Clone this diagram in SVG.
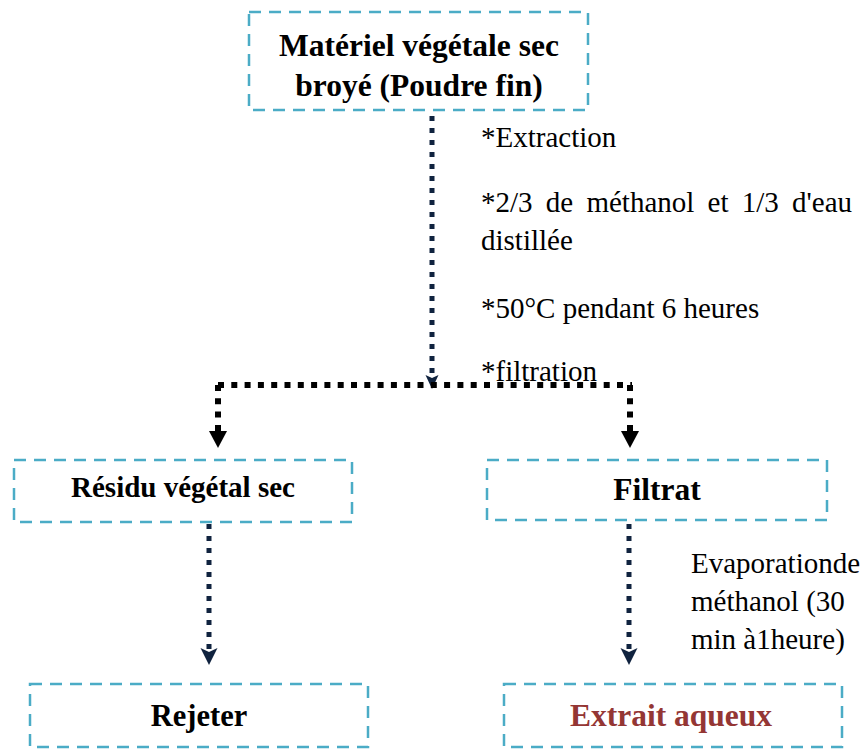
<svg xmlns="http://www.w3.org/2000/svg" width="865" height="749" viewBox="0 0 865 749">
<style>
.box{fill:#fff;stroke:#4bacc6;stroke-width:2.5;stroke-dasharray:12 8}
.b{font-family:"Liberation Serif","Times New Roman",serif;font-weight:bold;fill:#000;text-anchor:middle}
.r{font-family:"Liberation Serif","Times New Roman",serif;font-size:29px;fill:#000}
.navy{fill:none;stroke:#10233f;stroke-width:5;stroke-dasharray:5 7}
.blk{fill:none;stroke:#000;stroke-width:6;stroke-dasharray:6 7.3}
</style>
<defs>
<marker id="navyA" markerUnits="userSpaceOnUse" viewBox="0 -9 18 18" markerWidth="18" markerHeight="18" refX="4" refY="0" orient="auto" overflow="visible">
<path d="M0,-8.5 L17,0 L0,8.5 L4,0 Z" fill="#10233f"/>
</marker>
<marker id="navyS" markerUnits="userSpaceOnUse" viewBox="0 -7 15 14" markerWidth="15" markerHeight="14" refX="3" refY="0" orient="auto" overflow="visible">
<path d="M0,-6.5 L14,0 L0,6.5 L3,0 Z" fill="#10233f"/>
</marker>
<marker id="blkA" markerUnits="userSpaceOnUse" viewBox="0 -9 17 18" markerWidth="17" markerHeight="18" refX="0" refY="0" orient="auto" overflow="visible">
<path d="M0,-9 L17,0 L0,9 Z" fill="#000"/>
</marker>
</defs>

<g id="connectors">
<line class="navy" x1="432" y1="104" x2="432" y2="378" marker-end="url(#navyS)"/>
<line class="blk" x1="218" y1="385" x2="632" y2="385"/>
<line class="blk" x1="218" y1="385" x2="218" y2="431" marker-end="url(#blkA)"/>
<line class="blk" x1="630" y1="385" x2="630" y2="431" marker-end="url(#blkA)"/>
<line class="navy" x1="209" y1="524" x2="209" y2="652" marker-end="url(#navyA)"/>
<line class="navy" x1="629" y1="524" x2="629" y2="652" marker-end="url(#navyA)"/>
</g>

<g id="node-materiel">
<rect class="box" x="249" y="12" width="339" height="98"/>
<text class="b" font-size="31.5" x="419" y="56">Matériel végétale sec</text>
<text class="b" font-size="31.5" x="419" y="96">broyé (Poudre fin)</text>
</g>

<g id="label-extraction">
<text class="r" x="481" y="147">*Extraction</text>
<text class="r" x="481" y="212" word-spacing="6">*2/3 de méthanol et 1/3 d'eau</text>
<text class="r" x="481" y="250">distillée</text>
<text class="r" x="481" y="318">*50°C pendant 6 heures</text>
<text class="r" x="481" y="381">*filtration</text>
</g>

<g id="node-residu">
<rect class="box" x="14" y="460" width="338" height="62"/>
<text class="b" font-size="29" x="183" y="497">Résidu végétal sec</text>
</g>

<g id="node-filtrat">
<rect class="box" x="487" y="460" width="340" height="60"/>
<text class="b" font-size="31.5" x="657" y="500">Filtrat</text>
</g>

<g id="label-evaporation">
<text class="r" x="691" y="573">Evaporationde</text>
<text class="r" x="691" y="611">méthanol (30</text>
<text class="r" x="691" y="649">min à1heure)</text>
</g>

<g id="node-rejeter">
<rect class="box" x="30" y="684" width="338" height="63"/>
<text class="b" font-size="30.5" x="199" y="726">Rejeter</text>
</g>

<g id="node-extrait">
<rect class="box" x="504" y="684" width="338" height="63"/>
<text class="b" font-size="31.5" x="671" y="726" style="fill:#943634">Extrait aqueux</text>
</g>
</svg>
